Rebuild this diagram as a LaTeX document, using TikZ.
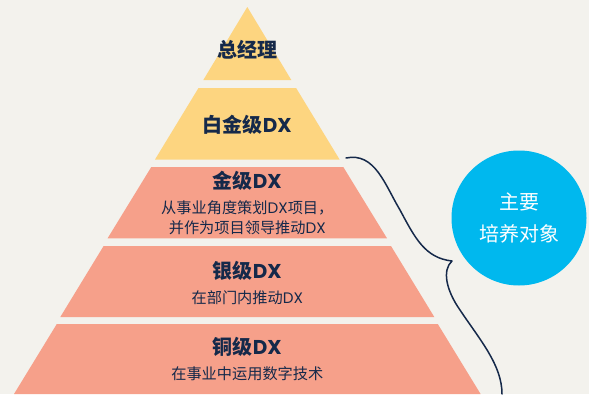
\documentclass[tikz,border=0pt]{standalone}
\usepackage{fontspec}
\setmainfont{Noto Sans CJK SC}
\newfontfamily\latf{Poppins}
\definecolor{bgc}{HTML}{F3F2ED}
\definecolor{goldc}{HTML}{FDD580}
\definecolor{salmc}{HTML}{F6A08A}
\definecolor{navyc}{HTML}{15294A}
\definecolor{cyanc}{HTML}{00B8EE}
\tikzset{
  tierY/.style={fill=goldc, draw=none},
  tierS/.style={fill=salmc, draw=none},
  ttl/.style={text=navyc, font=\fontsize{20}{23}\selectfont\bfseries, inner sep=0pt},
  sub/.style={text=navyc, font=\fontsize{15.2}{18}\selectfont, inner sep=0pt},
  ctext/.style={text=white, font=\fontsize{20}{23}\selectfont, inner sep=0pt},
  bracec/.style={draw=navyc, line width=1.5pt, line cap=round, line join=round}
}
\begin{document}
\begin{tikzpicture}[x=1pt,y=-1pt]
\fill[bgc] (0,0) rectangle (589,394);
\useasboundingbox (0,0) rectangle (589,394);
% tiers
\fill[tierY] (247.3,7) -- (291.3,80) -- (203.3,80) -- cycle;
\fill[tierY] (198.5,88) -- (296.1,88) -- (339.6,159.5) -- (155.0,159.5) -- cycle;
\fill[tierS] (151.3,167) -- (343.3,167) -- (387.0,238.3) -- (107.6,238.3) -- cycle;
\fill[tierS] (103.6,246) -- (391.0,246) -- (434.3,317) -- (60.3,317) -- cycle;
\fill[tierS] (56.8,324) -- (437.8,324) -- (480.6,394) -- (14.0,394) -- cycle;
% texts
\node[ttl] (t1) at (247.3,50) {总经理};
\node[ttl] (t2) at (247.3,125) {白金级{\latf DX}};
\node[ttl] (t3) at (247.3,181) {金级{\latf DX}};
\node[sub] (s3a) at (247.3,207.5) {从事业角度策划{\latf DX}项目，};
\node[sub] (s3b) at (247.3,227.5) {并作为项目领导推动{\latf DX}};
\node[ttl] (t4) at (247.3,271) {银级{\latf DX}};
\node[sub] (s4) at (247.3,298) {在部门内推动{\latf DX}};
\node[ttl] (t5) at (247.3,346.5) {铜级{\latf DX}};
\node[sub] (s5) at (247.3,374) {在事业中运用数字技术};
% circle
\node[circle, fill=cyanc, minimum size=135pt, inner sep=0pt] (circ) at (519,218) {};
\node[ctext] (c1) at (519,202) {主要};
\node[ctext] (c2) at (519,234) {培养对象};
% brace
\coordinate (bA) at (346,158);
\coordinate (bM) at (452,261);
\coordinate (bB) at (502,394);
\draw[bracec] (bA) .. controls (375,152) and (385,185) .. (400,210)
  .. controls (415,238) and (425,258) .. (bM)
  .. controls (442,270) and (446,290) .. (460,310)
  .. controls (480,340) and (502,365) .. (bB);
\end{tikzpicture}
\end{document}
